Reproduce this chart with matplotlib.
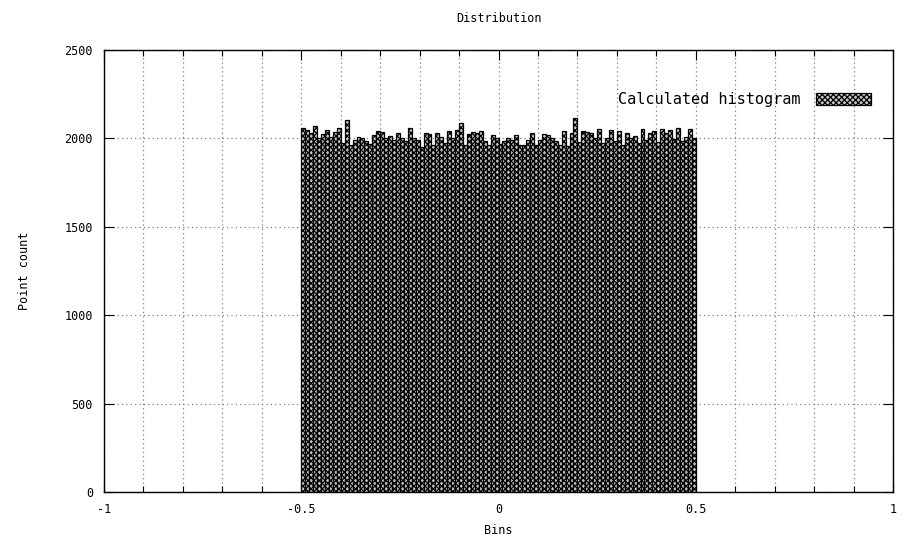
import numpy as np
import matplotlib.pyplot as plt
from matplotlib.ticker import MultipleLocator

# histogram of 200k uniform samples in [-0.5, 0.5), 100 bins
bin_start = -0.5
bin_width = 0.01
counts = [2060, 2045, 2030, 2070, 2000, 2025, 2050, 2010, 2035, 2060,
          1975, 2105, 1960, 1990, 2010, 2000, 1985, 1970, 2020, 2040,
          2035, 2000, 2015, 1990, 2030, 2000, 1985, 2060, 2005, 1990,
          1950, 2030, 2025, 1960, 2030, 2010, 1975, 2040, 2000, 2050,
          2085, 1960, 2025, 2035, 2030, 2040, 1985, 1960, 2020, 2000,
          1970, 1985, 2005, 1990, 2020, 1960, 1960, 1990, 2030, 1965,
          1990, 2025, 2020, 2000, 1985, 1960, 2040, 1955, 2030, 2115,
          1980, 2040, 2035, 2030, 2000, 2055, 1975, 2000, 2045, 1985,
          2040, 1960, 2030, 2000, 2015, 1975, 2055, 1990, 2030, 2040,
          1980, 2055, 2030, 2050, 1995, 2060, 1985, 2010, 2055, 2000]

xticks = [-1, -0.5, 0, 0.5, 1]
yticks = [0, 500, 1000, 1500, 2000, 2500]

plt.rcParams['font.family'] = 'DejaVu Sans Mono'
plt.rcParams['font.size'] = 8.5
plt.rcParams['hatch.linewidth'] = 0.9

fig = plt.figure(figsize=(9.06, 5.54), dpi=100)
ax = fig.add_axes([0.1148, 0.1119, 0.8709, 0.7978])

lefts = bin_start + bin_width * np.arange(len(counts))
ax.bar(lefts, counts, width=bin_width, align='edge', facecolor='#c8c8c8',
       edgecolor='black', hatch='xxxxxx', linewidth=0.9,
       label='Calculated histogram')

ax.set_xlim(-1, 1)
ax.set_ylim(0, 2500)
ax.set_xticks(xticks)
ax.set_xticklabels(['-1', '-0.5', '0', '0.5', '1'])
ax.set_yticks(yticks)
ax.xaxis.set_minor_locator(MultipleLocator(0.1))
ax.tick_params(which='both', direction='in', top=True, right=True, pad=8)
ax.tick_params(which='major', length=7, width=0.8)
ax.tick_params(which='minor', length=4, width=0.8)
for s in ax.spines.values():
    s.set_linewidth(1)

ax.grid(True, which='both', axis='x', color='#808080', linestyle=(0, (1, 2.5)), linewidth=0.9)
ax.grid(True, which='major', axis='y', color='#808080', linestyle=(0, (1, 2.5)), linewidth=0.9)
ax.set_axisbelow(True)

ax.set_title('Distribution', pad=20, fontsize=8.5)
ax.set_xlabel('Bins', labelpad=6)
ax.set_ylabel('Point count', labelpad=24)

ax.legend(loc='center right', bbox_to_anchor=(0.98, 0.887), frameon=False,
          markerfirst=False, handlelength=3.6, handleheight=0.8,
          handletextpad=1.0, borderaxespad=0.0, prop={'size': 11})

fig.savefig('out.png', dpi=100)
